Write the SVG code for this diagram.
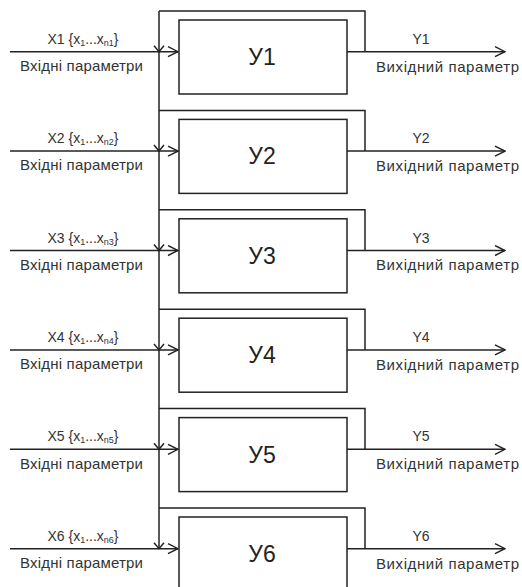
<svg xmlns="http://www.w3.org/2000/svg" width="522" height="587" viewBox="0 0 522 587">
<defs>
<style>
.ln{fill:none;stroke:#222;stroke-width:1.5}
.box{fill:#fff;stroke:#222;stroke-width:1.5}
.t{font-family:"Liberation Sans",Arial,sans-serif;fill:#333}
.lbl{font-size:14px;text-anchor:middle}
.sub{font-size:9px}
.cap{font-size:15px}
.bl{font-size:23px;text-anchor:middle;fill:#222}
</style>
<marker id="ah" viewBox="0 0 12 12" refX="11" refY="6" markerWidth="12" markerHeight="12" markerUnits="userSpaceOnUse" orient="auto">
<path d="M1,1 L11,6 L1,11" fill="none" stroke="#222" stroke-width="1.4"/>
</marker>
</defs>
<rect width="522" height="587" fill="#fff"/>
<g id="connectors">
<path class="ln" d="M159,11 V548.7"/>
<path class="ln" d="M159,11 H365 V51.7"/>
<path class="ln" d="M159,110.4 H365 V151.1"/>
<path class="ln" d="M159,209.8 H365 V250.5"/>
<path class="ln" d="M159,309.2 H365 V349.9"/>
<path class="ln" d="M159,408.6 H365 V449.3"/>
<path class="ln" d="M159,508 H365 V548.7"/>
<path class="ln" d="M10,51.7 H178" marker-end="url(#ah)"/>
<path class="ln" d="M10,151.1 H178" marker-end="url(#ah)"/>
<path class="ln" d="M10,250.5 H178" marker-end="url(#ah)"/>
<path class="ln" d="M10,349.9 H178" marker-end="url(#ah)"/>
<path class="ln" d="M10,449.3 H178" marker-end="url(#ah)"/>
<path class="ln" d="M10,548.7 H178" marker-end="url(#ah)"/>
<path class="ln" d="M154,45.7 L159,51.7 L164,45.7"/>
<path class="ln" d="M154,145.1 L159,151.1 L164,145.1"/>
<path class="ln" d="M154,244.5 L159,250.5 L164,244.5"/>
<path class="ln" d="M154,343.9 L159,349.9 L164,343.9"/>
<path class="ln" d="M154,443.3 L159,449.3 L164,443.3"/>
<path class="ln" d="M154,542.7 L159,548.7 L164,542.7"/>
<path class="ln" d="M347,51.7 H505" marker-end="url(#ah)"/>
<path class="ln" d="M347,151.1 H505" marker-end="url(#ah)"/>
<path class="ln" d="M347,250.5 H505" marker-end="url(#ah)"/>
<path class="ln" d="M347,349.9 H505" marker-end="url(#ah)"/>
<path class="ln" d="M347,449.3 H505" marker-end="url(#ah)"/>
<path class="ln" d="M347,548.7 H505" marker-end="url(#ah)"/>
</g>
<g id="u1"><rect class="box" x="179" y="20" width="168" height="74"/><text class="t bl" x="262" y="65">У1</text></g>
<g id="u2"><rect class="box" x="179" y="119.4" width="168" height="74"/><text class="t bl" x="262" y="164.4">У2</text></g>
<g id="u3"><rect class="box" x="179" y="218.8" width="168" height="74"/><text class="t bl" x="262" y="263.8">У3</text></g>
<g id="u4"><rect class="box" x="179" y="318.2" width="168" height="74"/><text class="t bl" x="262" y="363.2">У4</text></g>
<g id="u5"><rect class="box" x="179" y="417.6" width="168" height="74"/><text class="t bl" x="262" y="462.6">У5</text></g>
<g id="u6"><rect class="box" x="179" y="517" width="168" height="74"/><text class="t bl" x="262" y="562">У6</text></g>
<g id="inputs" class="t">
<text class="lbl" x="83" y="43.7">X1 {x<tspan class="sub" dy="2">1</tspan><tspan dy="-2">...x</tspan><tspan class="sub" dy="2">n1</tspan><tspan dy="-2">}</tspan></text>
<text class="lbl" x="83" y="143.1">X2 {x<tspan class="sub" dy="2">1</tspan><tspan dy="-2">...x</tspan><tspan class="sub" dy="2">n2</tspan><tspan dy="-2">}</tspan></text>
<text class="lbl" x="83" y="242.5">X3 {x<tspan class="sub" dy="2">1</tspan><tspan dy="-2">...x</tspan><tspan class="sub" dy="2">n3</tspan><tspan dy="-2">}</tspan></text>
<text class="lbl" x="83" y="341.9">X4 {x<tspan class="sub" dy="2">1</tspan><tspan dy="-2">...x</tspan><tspan class="sub" dy="2">n4</tspan><tspan dy="-2">}</tspan></text>
<text class="lbl" x="83" y="441.3">X5 {x<tspan class="sub" dy="2">1</tspan><tspan dy="-2">...x</tspan><tspan class="sub" dy="2">n5</tspan><tspan dy="-2">}</tspan></text>
<text class="lbl" x="83" y="540.7">X6 {x<tspan class="sub" dy="2">1</tspan><tspan dy="-2">...x</tspan><tspan class="sub" dy="2">n6</tspan><tspan dy="-2">}</tspan></text>
<text class="cap" x="20" y="71" textLength="123">Вхідні параметри</text>
<text class="cap" x="20" y="170.4" textLength="123">Вхідні параметри</text>
<text class="cap" x="20" y="269.8" textLength="123">Вхідні параметри</text>
<text class="cap" x="20" y="369.2" textLength="123">Вхідні параметри</text>
<text class="cap" x="20" y="468.6" textLength="123">Вхідні параметри</text>
<text class="cap" x="20" y="568" textLength="123">Вхідні параметри</text>
</g>
<g id="outputs" class="t">
<text class="lbl" x="421" y="43.7">Y1</text>
<text class="lbl" x="421" y="143.1">Y2</text>
<text class="lbl" x="421" y="242.5">Y3</text>
<text class="lbl" x="421" y="341.9">Y4</text>
<text class="lbl" x="421" y="441.3">Y5</text>
<text class="lbl" x="421" y="540.7">Y6</text>
<text class="cap" x="376" y="71.5" textLength="143">Вихідний параметр</text>
<text class="cap" x="376" y="170.9" textLength="143">Вихідний параметр</text>
<text class="cap" x="376" y="270.3" textLength="143">Вихідний параметр</text>
<text class="cap" x="376" y="369.7" textLength="143">Вихідний параметр</text>
<text class="cap" x="376" y="469.1" textLength="143">Вихідний параметр</text>
<text class="cap" x="376" y="568.5" textLength="143">Вихідний параметр</text>
</g>
</svg>
